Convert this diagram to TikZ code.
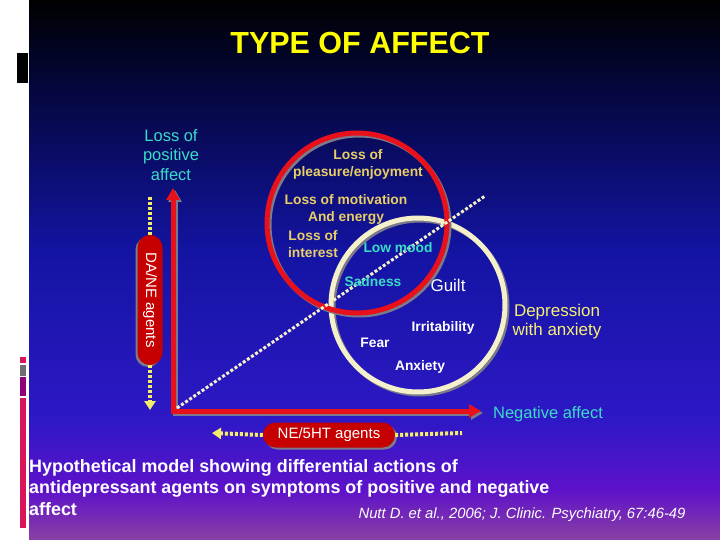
\documentclass[tikz,border=0pt]{standalone}
\usepackage{fontspec}
\setmainfont{Liberation Sans}
\usetikzlibrary{arrows.meta,shapes.misc}
\definecolor{bgA}{HTML}{000000}
\definecolor{bgB}{HTML}{04073E}
\definecolor{bgC}{HTML}{1314A2}
\definecolor{bgD}{HTML}{2E18C6}
\definecolor{bgE}{HTML}{5E12CA}
\definecolor{bgF}{HTML}{8A40A2}
\definecolor{redline}{HTML}{E8101A}
\definecolor{shadowgray}{HTML}{7A7A8A}
\definecolor{cream}{HTML}{F4F0CC}
\definecolor{dotyellow}{HTML}{F2EE6A}
\definecolor{tealtext}{HTML}{3ADCC6}
\definecolor{goldtext}{HTML}{E8CE66}
\definecolor{deptext}{HTML}{F4F070}
\definecolor{titleyellow}{HTML}{FFFF00}
\definecolor{pillred}{HTML}{C60000}
\definecolor{pinkbar}{HTML}{D8145A}
\definecolor{graybar}{HTML}{6E6E6E}
\definecolor{purplebar}{HTML}{900078}
\begin{document}
\begin{tikzpicture}[x=1pt,y=-1pt,
  axisline/.style={draw=redline,line width=5pt},
  axisshadow/.style={draw=shadowgray,line width=5pt},
  diagdot/.style={draw=cream,line width=3pt,dash pattern=on 3pt off 2pt},
  ydot/.style={draw=dotyellow,line width=4pt,dash pattern=on 3pt off 2pt},
  ytip/.style={-{Triangle[length=9pt,width=11pt,fill=dotyellow]}},
  pill/.style={rounded rectangle,fill=pillred,text=white,inner sep=0pt,
    font=\fontsize{15}{18}\selectfont},
  pillshadow/.style={rounded rectangle,fill=shadowgray,inner sep=0pt},
  lbl/.style={font=\fontsize{13.8}{17}\selectfont\bfseries,align=center,inner sep=0pt},
  big/.style={font=\fontsize{16.5}{19.5}\selectfont,align=center,inner sep=0pt}]
\useasboundingbox (0,0) rectangle (720,540);
% background
\fill[white] (0,0) rectangle (29,540);
\shade[top color=bgA,bottom color=bgB] (29,0) rectangle (720,91);
\shade[top color=bgB,bottom color=bgC] (29,90) rectangle (720,251);
\shade[top color=bgC,bottom color=bgD] (29,250) rectangle (720,421);
\shade[top color=bgD,bottom color=bgE] (29,420) rectangle (720,491);
\shade[top color=bgE,bottom color=bgF] (29,490) rectangle (720,540);
% left decorations
\fill[black] (17,53) rectangle (28,83);
\fill[pinkbar] (20,357) rectangle (26,363);
\fill[graybar] (20,365) rectangle (26,376);
\fill[purplebar] (20,377) rectangle (26,396);
\fill[pinkbar] (20,398) rectangle (26,528);
% title
\node[font=\fontsize{30.5}{34}\selectfont\bfseries,text=titleyellow,draw=none,inner sep=0pt] (title) at (360,43) {TYPE OF AFFECT};
% circles
\draw[shadowgray,line width=5pt] (420,307) circle (87);
\draw[cream,line width=5pt] (418,305) circle (87);
\draw[shadowgray,line width=5pt] (359,225) circle (90);
\draw[redline,line width=5pt] (357,223) circle (90);
% axes
\coordinate (origin) at (173,411);
\coordinate (ytop) at (173,188);
\coordinate (xend) at (481,411);
\coordinate (so) at (175,413);
\coordinate (sy) at (175,190);
\coordinate (sx) at (483,413);
\draw[axisshadow,{Triangle[length=12pt,width=13pt]}-{Triangle[length=12pt,width=13pt]}] (sy) -- (so) -- (sx);
\draw[axisline,{Triangle[length=12pt,width=13pt]}-{Triangle[length=12pt,width=13pt]}] (ytop) -- (origin) -- (xend);
% diagonal
\coordinate (dstart) at (177,408);
\coordinate (dend) at (485,196);
\draw[diagdot] (dstart) -- (dend);
% DA/NE agents
\node[pillshadow,rotate=-90,minimum width=130pt,minimum height=25pt] (daneshadow) at (148,302) {};
\node[pill,rotate=-90,minimum width=130pt,minimum height=25pt] (dane) at (150,300) {DA/NE agents};
\coordinate (dtop) at (150,197);
\coordinate (dbot) at (150,410);
\draw[ydot] (dtop) -- (dane.west);
\draw[ydot,ytip] (dane.east) -- (dbot);
% NE/5HT agents
\node[pillshadow,minimum width=132pt,minimum height=25pt] (neshadow) at (331,437) {};
\node[pill,minimum width=132pt,minimum height=25pt] (ne) at (329,435) {NE/5HT agents};
\coordinate (nleft) at (212,433);
\coordinate (nright) at (462,433);
\draw[ydot,ytip] (ne.west) -- (nleft);
\draw[ydot] (ne.east) -- (nright);
% labels
\node[big,text=tealtext] (pos) at (171,155) {Loss of\\positive\\affect};
\node[big,text=tealtext] (neg) at (548,414) {Negative affect};
\node[lbl,text=goldtext] (pleas) at (358,164.5) {Loss of\\pleasure/enjoyment};
\node[lbl,text=goldtext] (motiv) at (346,209.5) {Loss of motivation\\And energy};
\node[lbl,text=goldtext] (inter) at (313,244.5) {Loss of\\interest};
\node[lbl,text=tealtext] (low) at (398,248) {Low mood};
\node[lbl,text=tealtext] (sad) at (373,282) {Sadness};
\node[font=\fontsize{17}{20}\selectfont,text=white,inner sep=0pt] (guilt) at (448,285) {Guilt};
\node[lbl,text=white] (irr) at (443,328) {Irritability};
\node[lbl,text=white] (fear) at (375,343) {Fear};
\node[lbl,text=white] (anx) at (420,367) {Anxiety};
\node[font=\fontsize{17}{19}\selectfont,align=center,inner sep=0pt,text=deptext] (dep) at (557,321.5) {Depression\\with anxiety};
% caption
\node[font=\fontsize{17.9}{21.5}\selectfont\bfseries,text=white,align=left,anchor=west,inner sep=0pt] (cap) at (29,487.5) {Hypothetical model showing differential actions of\\antidepressant agents on symptoms of positive and negative\\affect};
\node[font=\fontsize{14.8}{17}\selectfont\itshape,text=white,inner sep=0pt] (cite) at (522,515) {Nutt D. et al., 2006; J. Clinic. Psychiatry, 67:46-49};
\end{tikzpicture}
\end{document}
